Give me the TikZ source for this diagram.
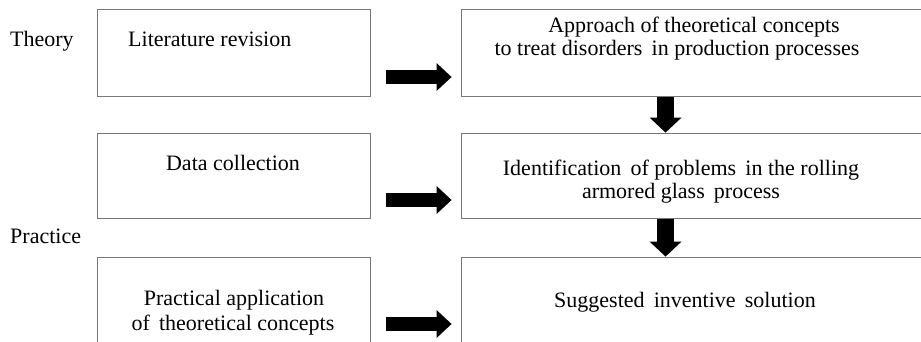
\documentclass[tikz,border=0pt]{standalone}
\usepackage{fontspec}
\setmainfont{Liberation Serif}
\usetikzlibrary{arrows.meta}
\definecolor{boxgray}{RGB}{120,120,120}
\begin{document}
\begin{tikzpicture}[x=1pt,y=-1pt,
  stage/.style={draw=boxgray, line width=0.9pt, rectangle, inner sep=0pt},
  txt/.style={font=\fontsize{22}{24}\selectfont, inner sep=0pt, anchor=base},
  sidetxt/.style={txt, anchor=base west},
  harrow/.style={line width=14pt, -{Triangle[length=15pt,width=28pt,line width=0pt]}},
  varrow/.style={line width=17pt, -{Triangle[length=15pt,width=32pt,line width=0pt]}}]
\useasboundingbox (0,0) rectangle (921,341);
\clip (0,0) rectangle (921,341);

% left column: sources of the work
\node[stage, minimum width=273pt, minimum height=87pt] (L1) at (233.5,52.5) {};
\node[stage, minimum width=273pt, minimum height=85pt] (L2) at (233.5,175.5) {};
\node[stage, minimum width=273pt, minimum height=87pt] (L3) at (233.5,300.5) {};

% right column: results of each stage
\node[stage, minimum width=480pt, minimum height=87pt] (R1) at (701,52.5) {};
\node[stage, minimum width=480pt, minimum height=85pt] (R2) at (701,175.5) {};
\node[stage, minimum width=480pt, minimum height=87pt] (R3) at (701,300.5) {};

% side labels
\node[sidetxt] (theory) at (10,46) {Theory};
\node[sidetxt] (practice) at (10,243) {Practice};

% box texts
\node[sidetxt] (lit) at (128,46) {Literature revision};
\node[txt] (dat) at (233,170) {Data collection};
\node[txt] (pa1) at (234,305) {Practical application};
\node[txt] (pa2) at (233,330) {of\, theoretical concepts};

\node[txt] (ap1) at (694,32) {Approach of theoretical concepts};
\node[txt] (ap2) at (677,55) {to treat disorders\, in production processes};
\node[txt] (id1) at (681,175) {Identification\, of problems\, in the rolling};
\node[txt] (id2) at (681,198) {armored glass\, process};
\node[txt] (sug) at (685,307) {Suggested\, inventive\, solution};

% horizontal flow arrows
\draw[harrow] ([xshift=16pt,yshift=-24.5pt]L1.east) -- ([xshift=-9pt,yshift=-24.5pt]R1.west);
\draw[harrow] ([xshift=16pt,yshift=-24.5pt]L2.east) -- ([xshift=-9pt,yshift=-24.5pt]R2.west);
\draw[harrow] ([xshift=16pt,yshift=-23.5pt]L3.east) -- ([xshift=-9pt,yshift=-23.5pt]R3.west);

% vertical flow arrows
\draw[varrow] ([xshift=205pt,yshift=-1pt]R1.south west) -- ([xshift=205pt]R2.north west);
\draw[varrow] ([xshift=205pt,yshift=-1pt]R2.south west) -- ([xshift=205pt]R3.north west);
\end{tikzpicture}
\end{document}
